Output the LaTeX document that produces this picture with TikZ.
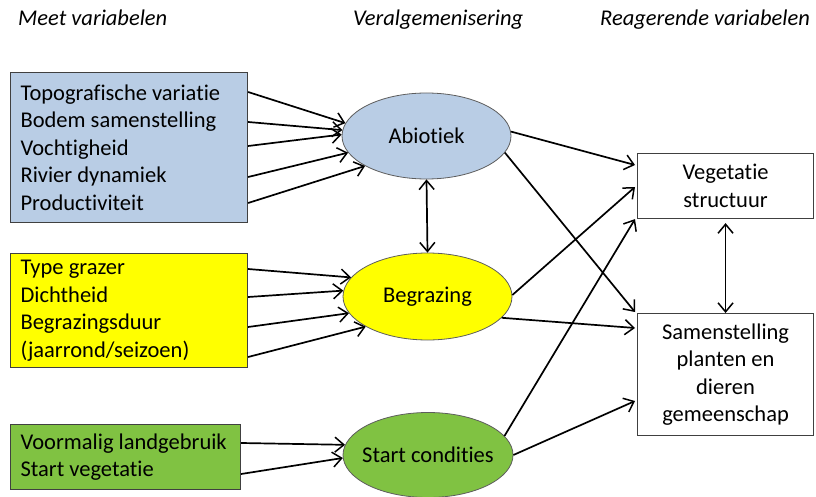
\documentclass[tikz,border=0pt]{standalone}
\usepackage{fontspec}
\setmainfont{Carlito}[Ligatures={NoCommon,NoContextual}]
\usetikzlibrary{arrows.meta,shapes.geometric}
\definecolor{boxblue}{HTML}{B9CDE5}
\definecolor{boxyellow}{HTML}{FFFF00}
\definecolor{boxgreen}{HTML}{80C242}
\definecolor{edgegray}{HTML}{404040}
\newcommand{\fixedlabel}[1]{\makebox[0pt]{#1}}
\begin{document}
\begin{tikzpicture}[x=1pt,y=-1pt,
  txt/.style={font=\fontsize{22.5}{27.5}\selectfont},
  title/.style={font=\fontsize{22.5}{27.5}\selectfont\itshape, anchor=base west, inner sep=0},
  inbox/.style={txt, draw=edgegray, line width=1.1pt, anchor=north west, align=flush left,
    inner xsep=10pt, inner ysep=0pt, text width=217pt, minimum width=237pt},
  factor/.style={txt, ellipse, draw=edgegray!85, line width=0.8pt, inner sep=0pt,
    minimum width=169pt, minimum height=86pt},
  outbox/.style={txt, draw=edgegray, line width=1.1pt, anchor=north west, align=flush center,
    inner sep=0pt, minimum width=176pt},
  link/.style={line width=1.7pt, -{Straight Barb[length=9pt,width=15pt,line width=1.5pt]}},
  both/.style={line width=1.7pt, {Straight Barb[length=9pt,width=15pt,line width=1.5pt]}-{Straight Barb[length=9pt,width=15pt,line width=1.5pt]}}
]
\useasboundingbox (0,0) rectangle (816,497);

% column headings
\node[title] (h1) at (18,26) {Meet variabelen};
\node[title] (h2) at (353,26) {Veralgemenisering};
\node[title] (h3) at (600,26) {Reagerende variabelen};

% measured variables
\node[inbox, fill=boxblue, minimum height=150pt] (b1) at (10,72)
  {Topografische variatie\\Bodem samenstelling\\Vochtigheid\\Rivier dynamiek\\Productiviteit};
\node[inbox, fill=boxyellow, minimum height=114pt] (b2) at (10,253)
  {Type grazer\\Dichtheid\\Begrazingsduur\\(jaarrond/seizoen)};
\node[inbox, fill=boxgreen, minimum height=65pt, minimum width=230pt, text width=210pt] (b3) at (10,424)
  {Voormalig landgebruik\\Start vegetatie};

% generalised factors (label width kept out of the ellipse size)
\node[factor, fill=boxblue] (abio) at (426.5,136) {\fixedlabel{Abiotiek}};
\node[factor, fill=boxyellow, minimum height=87pt] (begr) at (427.5,296.5) {\fixedlabel{Begrazing}};
\node[factor, fill=boxgreen, minimum width=170pt, minimum height=85pt] (start) at (428,455) {\fixedlabel{Start condities}};

% responding variables
\node[outbox, minimum height=65pt] (veg) at (637,153) {Vegetatie\\structuur};
\node[outbox, minimum height=122pt] (sam) at (637,313) {Samenstelling\\planten en\\dieren\\gemeenschap};

% measured variables -> factors
\draw[link] ([yshift=-20pt]b1.north east) -- (abio.171);
\draw[link] ([yshift=-50pt]b1.north east) -- (abio.176);
\draw[link] ([yshift=-74pt]b1.north east) -- (abio.179);
\draw[link] ([yshift=-105pt]b1.north east) -- (abio.192);
\draw[link] ([yshift=-131pt]b1.north east) -- (abio.206);

\draw[link] ([yshift=-16pt]b2.north east) -- (begr.166);
\draw[link] ([yshift=-44pt]b2.north east) -- (begr.176);
\draw[link] ([yshift=-74pt]b2.north east) -- (begr.192);
\draw[link] ([yshift=-104pt]b2.north east) -- (begr.206);

\draw[link] ([yshift=-19pt]b3.north east) -- (start.173);
\draw[link] ([yshift=-50pt]b3.north east) -- (start.182);

% interaction between factors
\draw[both] (abio.south) -- (begr.north);

% factors -> responding variables
\draw[link] (abio.3) -- ([xshift=-2pt,yshift=-12pt]veg.north west);
\draw[link] (abio.-12) -- ([xshift=-2pt,yshift=1pt]sam.north west);
\draw[link] (begr.1) -- ([xshift=-2pt,yshift=-34pt]veg.north west);
\draw[link] (begr.-16) -- ([xshift=-2pt,yshift=-15pt]sam.north west);
\draw[link] (start.14) -- ([xshift=-2pt]veg.south west);
\draw[link] (start.0) -- ([xshift=-2pt,yshift=-88pt]sam.north west);

% interaction between responding variables
\draw[both, shorten <=4pt] (veg.south) -- (sam.north);
\end{tikzpicture}
\end{document}
